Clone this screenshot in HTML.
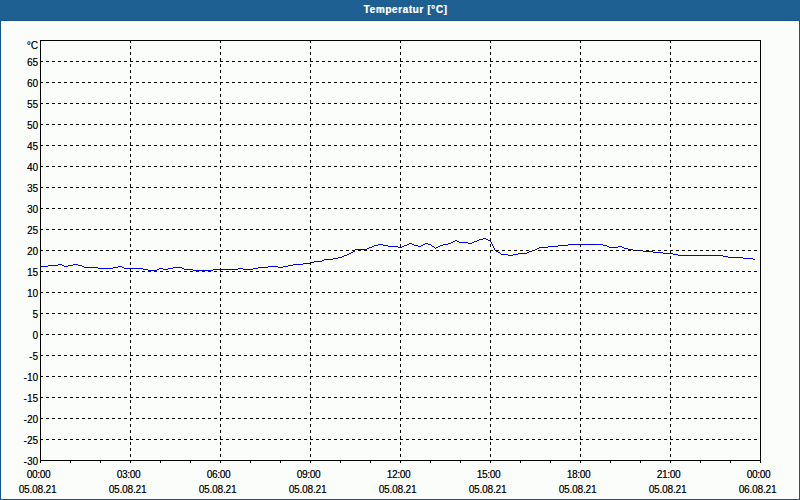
<!DOCTYPE html>
<html><head><meta charset="utf-8"><style>
html,body{margin:0;padding:0;}
body{width:800px;height:500px;position:relative;overflow:hidden;background:#fbfdfb;font-family:"Liberation Sans",sans-serif;}
#hdr{position:absolute;left:0;top:0;width:800px;height:20px;background:#1d5f90;border-bottom:1px solid #165389;}
#ttl{position:absolute;left:0;top:0;width:800px;height:20px;color:#fff;font-weight:bold;font-size:10px;line-height:20px;letter-spacing:0.6px;text-align:center;text-indent:11px;text-shadow:0.5px 0 0 rgba(255,255,255,0.6);}
#bl{position:absolute;left:0;top:20px;width:1px;height:480px;background:#165389;}
#br{position:absolute;right:0;top:20px;width:1px;height:480px;background:#165389;}
#bb{position:absolute;left:0;bottom:0;width:800px;height:1px;background:#165389;}
svg{position:absolute;left:0;top:0;}
#il{position:absolute;left:1px;top:21px;width:1px;height:477px;background:#fff;}
#ir{position:absolute;left:798px;top:21px;width:1px;height:477px;background:#fff;}
#ib{position:absolute;left:1px;top:498px;width:798px;height:1px;background:#fff;}
#it{position:absolute;left:1px;top:21px;width:798px;height:1px;background:#fff;}
.yl{position:absolute;left:0;width:38px;text-align:right;font-size:10px;line-height:11px;letter-spacing:0px;color:#000;text-shadow:0.3px 0 0 rgba(0,0,0,0.5);}
.xl{position:absolute;width:60px;text-align:center;font-size:10px;line-height:11px;letter-spacing:-0.3px;color:#000;text-shadow:0.3px 0 0 rgba(0,0,0,0.5);}
</style></head><body>
<div id="hdr"></div>
<div id="bl"></div><div id="br"></div><div id="bb"></div><div id="il"></div><div id="ir"></div><div id="ib"></div><div id="it"></div>
<svg width="800" height="500" shape-rendering="crispEdges"><defs><pattern id="dp" x="0" y="1" width="4" height="6" patternUnits="userSpaceOnUse"><rect x="2" y="0" width="1" height="1" fill="#2459ad"/><rect x="1" y="2" width="1" height="1" fill="#2459ad"/><rect x="0" y="4" width="1" height="1" fill="#2459ad"/></pattern></defs><rect x="0" y="0" width="800" height="20" fill="url(#dp)"/><rect x="40" y="266" width="8" height="1" fill="#0000e6"/><rect x="48" y="265" width="10" height="1" fill="#0000e6"/><rect x="58" y="264" width="4" height="1" fill="#0000e6"/><rect x="62" y="265" width="2" height="1" fill="#0000e6"/><rect x="64" y="266" width="4" height="1" fill="#0000e6"/><rect x="68" y="265" width="5" height="1" fill="#0000e6"/><rect x="73" y="264" width="5" height="1" fill="#0000e6"/><rect x="78" y="265" width="4" height="1" fill="#0000e6"/><rect x="82" y="266" width="2" height="1" fill="#0000e6"/><rect x="84" y="267" width="14" height="1" fill="#0000e6"/><rect x="98" y="268" width="15" height="1" fill="#0000e6"/><rect x="113" y="267" width="5" height="1" fill="#0000e6"/><rect x="118" y="266" width="4" height="1" fill="#0000e6"/><rect x="122" y="267" width="2" height="1" fill="#0000e6"/><rect x="124" y="268" width="19" height="1" fill="#0000e6"/><rect x="143" y="269" width="5" height="1" fill="#0000e6"/><rect x="148" y="270" width="9" height="1" fill="#0000e6"/><rect x="157" y="269" width="2" height="1" fill="#0000e6"/><rect x="159" y="268" width="4" height="1" fill="#0000e6"/><rect x="163" y="269" width="5" height="1" fill="#0000e6"/><rect x="168" y="268" width="5" height="1" fill="#0000e6"/><rect x="173" y="267" width="9" height="1" fill="#0000e6"/><rect x="182" y="268" width="2" height="1" fill="#0000e6"/><rect x="184" y="269" width="9" height="1" fill="#0000e6"/><rect x="193" y="270" width="20" height="1" fill="#0000e6"/><rect x="213" y="269" width="25" height="1" fill="#0000e6"/><rect x="238" y="268" width="5" height="1" fill="#0000e6"/><rect x="243" y="269" width="10" height="1" fill="#0000e6"/><rect x="253" y="268" width="5" height="1" fill="#0000e6"/><rect x="258" y="267" width="10" height="1" fill="#0000e6"/><rect x="268" y="266" width="10" height="1" fill="#0000e6"/><rect x="278" y="267" width="5" height="1" fill="#0000e6"/><rect x="283" y="266" width="5" height="1" fill="#0000e6"/><rect x="288" y="265" width="5" height="1" fill="#0000e6"/><rect x="293" y="264" width="10" height="1" fill="#0000e6"/><rect x="303" y="263" width="8" height="1" fill="#0000e6"/><rect x="311" y="262" width="3" height="1" fill="#0000e6"/><rect x="314" y="261" width="8" height="1" fill="#0000e6"/><rect x="322" y="260" width="2" height="1" fill="#0000e6"/><rect x="324" y="259" width="9" height="1" fill="#0000e6"/><rect x="333" y="258" width="5" height="1" fill="#0000e6"/><rect x="338" y="257" width="4" height="1" fill="#0000e6"/><rect x="342" y="256" width="2" height="1" fill="#0000e6"/><rect x="344" y="255" width="3" height="1" fill="#0000e6"/><rect x="347" y="254" width="2" height="1" fill="#0000e6"/><rect x="349" y="253" width="2" height="1" fill="#0000e6"/><rect x="351" y="252" width="2" height="1" fill="#0000e6"/><rect x="353" y="251" width="2" height="1" fill="#0000e6"/><rect x="355" y="249" width="12" height="1" fill="#0000e6"/><rect x="367" y="248" width="2" height="1" fill="#0000e6"/><rect x="369" y="247" width="3" height="1" fill="#0000e6"/><rect x="372" y="246" width="2" height="1" fill="#0000e6"/><rect x="374" y="245" width="4" height="1" fill="#0000e6"/><rect x="378" y="244" width="5" height="1" fill="#0000e6"/><rect x="383" y="245" width="5" height="1" fill="#0000e6"/><rect x="388" y="246" width="10" height="1" fill="#0000e6"/><rect x="398" y="247" width="4" height="1" fill="#0000e6"/><rect x="402" y="246" width="2" height="1" fill="#0000e6"/><rect x="404" y="245" width="3" height="1" fill="#0000e6"/><rect x="407" y="244" width="2" height="1" fill="#0000e6"/><rect x="409" y="243" width="3" height="1" fill="#0000e6"/><rect x="412" y="244" width="2" height="1" fill="#0000e6"/><rect x="414" y="245" width="4" height="1" fill="#0000e6"/><rect x="418" y="246" width="3" height="1" fill="#0000e6"/><rect x="421" y="245" width="2" height="1" fill="#0000e6"/><rect x="423" y="244" width="2" height="1" fill="#0000e6"/><rect x="425" y="243" width="3" height="1" fill="#0000e6"/><rect x="428" y="244" width="3" height="1" fill="#0000e6"/><rect x="431" y="245" width="1" height="1" fill="#0000e6"/><rect x="432" y="246" width="2" height="1" fill="#0000e6"/><rect x="434" y="247" width="1" height="1" fill="#0000e6"/><rect x="435" y="248" width="1" height="1" fill="#0000e6"/><rect x="436" y="247" width="2" height="1" fill="#0000e6"/><rect x="438" y="246" width="2" height="1" fill="#0000e6"/><rect x="440" y="245" width="3" height="1" fill="#0000e6"/><rect x="443" y="244" width="5" height="1" fill="#0000e6"/><rect x="448" y="243" width="3" height="1" fill="#0000e6"/><rect x="451" y="242" width="2" height="1" fill="#0000e6"/><rect x="453" y="241" width="2" height="1" fill="#0000e6"/><rect x="455" y="240" width="2" height="1" fill="#0000e6"/><rect x="457" y="241" width="2" height="1" fill="#0000e6"/><rect x="459" y="242" width="9" height="1" fill="#0000e6"/><rect x="468" y="243" width="4" height="1" fill="#0000e6"/><rect x="472" y="242" width="2" height="1" fill="#0000e6"/><rect x="474" y="241" width="3" height="1" fill="#0000e6"/><rect x="477" y="240" width="2" height="1" fill="#0000e6"/><rect x="479" y="239" width="4" height="1" fill="#0000e6"/><rect x="483" y="238" width="3" height="1" fill="#0000e6"/><rect x="486" y="239" width="2" height="1" fill="#0000e6"/><rect x="488" y="240" width="2" height="1" fill="#0000e6"/><rect x="490" y="241" width="1" height="1" fill="#0000e6"/><rect x="491" y="242" width="1" height="1" fill="#0000e6"/><rect x="491" y="243" width="1" height="1" fill="#0000e6"/><rect x="492" y="244" width="1" height="1" fill="#0000e6"/><rect x="492" y="245" width="1" height="1" fill="#0000e6"/><rect x="493" y="246" width="1" height="1" fill="#0000e6"/><rect x="493" y="247" width="1" height="1" fill="#0000e6"/><rect x="494" y="248" width="1" height="1" fill="#0000e6"/><rect x="494" y="249" width="1" height="1" fill="#0000e6"/><rect x="495" y="250" width="1" height="1" fill="#0000e6"/><rect x="496" y="251" width="2" height="1" fill="#0000e6"/><rect x="498" y="252" width="2" height="1" fill="#0000e6"/><rect x="500" y="253" width="1" height="1" fill="#0000e6"/><rect x="501" y="254" width="7" height="1" fill="#0000e6"/><rect x="508" y="255" width="5" height="1" fill="#0000e6"/><rect x="513" y="254" width="5" height="1" fill="#0000e6"/><rect x="518" y="253" width="9" height="1" fill="#0000e6"/><rect x="527" y="252" width="2" height="1" fill="#0000e6"/><rect x="529" y="251" width="3" height="1" fill="#0000e6"/><rect x="532" y="250" width="3" height="1" fill="#0000e6"/><rect x="535" y="249" width="2" height="1" fill="#0000e6"/><rect x="537" y="248" width="2" height="1" fill="#0000e6"/><rect x="539" y="247" width="9" height="1" fill="#0000e6"/><rect x="548" y="246" width="10" height="1" fill="#0000e6"/><rect x="558" y="245" width="10" height="1" fill="#0000e6"/><rect x="568" y="244" width="35" height="1" fill="#0000e6"/><rect x="603" y="245" width="4" height="1" fill="#0000e6"/><rect x="607" y="246" width="2" height="1" fill="#0000e6"/><rect x="609" y="247" width="9" height="1" fill="#0000e6"/><rect x="618" y="246" width="4" height="1" fill="#0000e6"/><rect x="622" y="247" width="2" height="1" fill="#0000e6"/><rect x="624" y="248" width="4" height="1" fill="#0000e6"/><rect x="628" y="249" width="5" height="1" fill="#0000e6"/><rect x="633" y="250" width="10" height="1" fill="#0000e6"/><rect x="643" y="251" width="10" height="1" fill="#0000e6"/><rect x="653" y="252" width="10" height="1" fill="#0000e6"/><rect x="663" y="253" width="10" height="1" fill="#0000e6"/><rect x="673" y="254" width="5" height="1" fill="#0000e6"/><rect x="678" y="255" width="45" height="1" fill="#0000e6"/><rect x="723" y="256" width="5" height="1" fill="#0000e6"/><rect x="728" y="257" width="15" height="1" fill="#0000e6"/><rect x="743" y="258" width="10" height="1" fill="#0000e6"/><rect x="753" y="259" width="2" height="1" fill="#0000e6"/><line x1="40" y1="61.5" x2="760" y2="61.5" stroke="#000" stroke-dasharray="3 3"/><line x1="40" y1="82.5" x2="760" y2="82.5" stroke="#000" stroke-dasharray="3 3"/><line x1="40" y1="103.5" x2="760" y2="103.5" stroke="#000" stroke-dasharray="3 3"/><line x1="40" y1="124.5" x2="760" y2="124.5" stroke="#000" stroke-dasharray="3 3"/><line x1="40" y1="145.5" x2="760" y2="145.5" stroke="#000" stroke-dasharray="3 3"/><line x1="40" y1="166.5" x2="760" y2="166.5" stroke="#000" stroke-dasharray="3 3"/><line x1="40" y1="187.5" x2="760" y2="187.5" stroke="#000" stroke-dasharray="3 3"/><line x1="40" y1="208.5" x2="760" y2="208.5" stroke="#000" stroke-dasharray="3 3"/><line x1="40" y1="229.5" x2="760" y2="229.5" stroke="#000" stroke-dasharray="3 3"/><line x1="40" y1="250.5" x2="760" y2="250.5" stroke="#000" stroke-dasharray="3 3"/><line x1="40" y1="271.5" x2="760" y2="271.5" stroke="#000" stroke-dasharray="3 3"/><line x1="40" y1="292.5" x2="760" y2="292.5" stroke="#000" stroke-dasharray="3 3"/><line x1="40" y1="313.5" x2="760" y2="313.5" stroke="#000" stroke-dasharray="3 3"/><line x1="40" y1="334.5" x2="760" y2="334.5" stroke="#000" stroke-dasharray="3 3"/><line x1="40" y1="355.5" x2="760" y2="355.5" stroke="#000" stroke-dasharray="3 3"/><line x1="40" y1="376.5" x2="760" y2="376.5" stroke="#000" stroke-dasharray="3 3"/><line x1="40" y1="397.5" x2="760" y2="397.5" stroke="#000" stroke-dasharray="3 3"/><line x1="40" y1="418.5" x2="760" y2="418.5" stroke="#000" stroke-dasharray="3 3"/><line x1="40" y1="439.5" x2="760" y2="439.5" stroke="#000" stroke-dasharray="3 3"/><line x1="130.5" y1="40" x2="130.5" y2="460" stroke="#000" stroke-dasharray="3 3"/><line x1="220.5" y1="40" x2="220.5" y2="460" stroke="#000" stroke-dasharray="3 3"/><line x1="310.5" y1="40" x2="310.5" y2="460" stroke="#000" stroke-dasharray="3 3"/><line x1="400.5" y1="40" x2="400.5" y2="460" stroke="#000" stroke-dasharray="3 3"/><line x1="490.5" y1="40" x2="490.5" y2="460" stroke="#000" stroke-dasharray="3 3"/><line x1="580.5" y1="40" x2="580.5" y2="460" stroke="#000" stroke-dasharray="3 3"/><line x1="670.5" y1="40" x2="670.5" y2="460" stroke="#000" stroke-dasharray="3 3"/><rect x="40" y="40" width="721" height="1" fill="#000"/><rect x="40" y="460" width="721" height="1" fill="#000"/><rect x="40" y="40" width="1" height="423" fill="#000"/><rect x="760" y="40" width="1" height="423" fill="#000"/><rect x="40" y="461" width="1" height="2" fill="#000"/><rect x="70" y="461" width="1" height="2" fill="#000"/><rect x="100" y="461" width="1" height="2" fill="#000"/><rect x="130" y="461" width="1" height="2" fill="#000"/><rect x="160" y="461" width="1" height="2" fill="#000"/><rect x="190" y="461" width="1" height="2" fill="#000"/><rect x="220" y="461" width="1" height="2" fill="#000"/><rect x="250" y="461" width="1" height="2" fill="#000"/><rect x="280" y="461" width="1" height="2" fill="#000"/><rect x="310" y="461" width="1" height="2" fill="#000"/><rect x="340" y="461" width="1" height="2" fill="#000"/><rect x="370" y="461" width="1" height="2" fill="#000"/><rect x="400" y="461" width="1" height="2" fill="#000"/><rect x="430" y="461" width="1" height="2" fill="#000"/><rect x="460" y="461" width="1" height="2" fill="#000"/><rect x="490" y="461" width="1" height="2" fill="#000"/><rect x="520" y="461" width="1" height="2" fill="#000"/><rect x="550" y="461" width="1" height="2" fill="#000"/><rect x="580" y="461" width="1" height="2" fill="#000"/><rect x="610" y="461" width="1" height="2" fill="#000"/><rect x="640" y="461" width="1" height="2" fill="#000"/><rect x="670" y="461" width="1" height="2" fill="#000"/><rect x="700" y="461" width="1" height="2" fill="#000"/><rect x="730" y="461" width="1" height="2" fill="#000"/><rect x="760" y="461" width="1" height="2" fill="#000"/></svg>
<div id="ttl">Temperatur [°C]</div>
<div class="yl" style="top:57px">65</div><div class="yl" style="top:78px">60</div><div class="yl" style="top:99px">55</div><div class="yl" style="top:120px">50</div><div class="yl" style="top:141px">45</div><div class="yl" style="top:162px">40</div><div class="yl" style="top:183px">35</div><div class="yl" style="top:204px">30</div><div class="yl" style="top:225px">25</div><div class="yl" style="top:246px">20</div><div class="yl" style="top:267px">15</div><div class="yl" style="top:288px">10</div><div class="yl" style="top:309px">5</div><div class="yl" style="top:330px">0</div><div class="yl" style="top:351px">-5</div><div class="yl" style="top:372px">-10</div><div class="yl" style="top:393px">-15</div><div class="yl" style="top:414px">-20</div><div class="yl" style="top:435px">-25</div><div class="yl" style="top:456px">-30</div><div class="yl" style="top:40px">°C</div><div class="xl" style="left:8.5px;top:469px">00:00</div><div class="xl" style="left:7.5px;top:484px;letter-spacing:-0.15px">05.08.21</div><div class="xl" style="left:98.5px;top:469px">03:00</div><div class="xl" style="left:97.5px;top:484px;letter-spacing:-0.15px">05.08.21</div><div class="xl" style="left:188.5px;top:469px">06:00</div><div class="xl" style="left:187.5px;top:484px;letter-spacing:-0.15px">05.08.21</div><div class="xl" style="left:278.5px;top:469px">09:00</div><div class="xl" style="left:277.5px;top:484px;letter-spacing:-0.15px">05.08.21</div><div class="xl" style="left:368.5px;top:469px">12:00</div><div class="xl" style="left:367.5px;top:484px;letter-spacing:-0.15px">05.08.21</div><div class="xl" style="left:458.5px;top:469px">15:00</div><div class="xl" style="left:457.5px;top:484px;letter-spacing:-0.15px">05.08.21</div><div class="xl" style="left:548.5px;top:469px">18:00</div><div class="xl" style="left:547.5px;top:484px;letter-spacing:-0.15px">05.08.21</div><div class="xl" style="left:638.5px;top:469px">21:00</div><div class="xl" style="left:637.5px;top:484px;letter-spacing:-0.15px">05.08.21</div><div class="xl" style="left:728.5px;top:469px">00:00</div><div class="xl" style="left:727.5px;top:484px;letter-spacing:-0.15px">06.08.21</div>
</body></html>
